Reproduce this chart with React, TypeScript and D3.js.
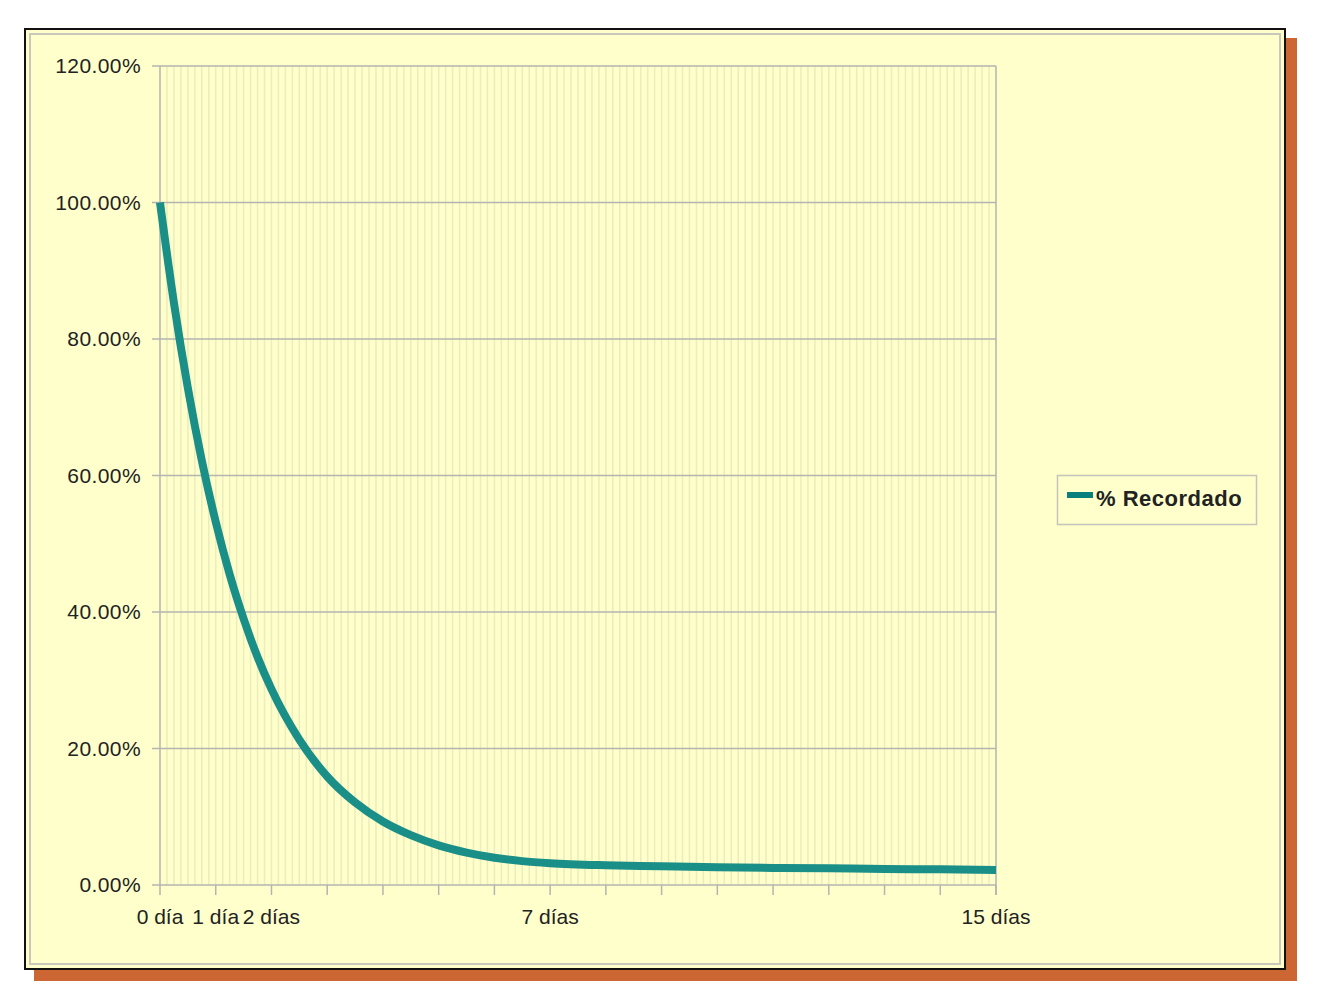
import React from "react";
import * as d3 from "d3";

// days since learning and % remembered
const days = [0, 0.25, 0.5, 0.75, 1, 1.25, 1.5, 1.75, 2, 2.5, 3, 3.5, 4, 4.5, 5, 5.5, 6, 6.5, 7, 8, 9, 10, 11, 12, 13, 14, 15];
const recordado = [100, 85.3, 72.8, 62.2, 53.2, 45.5, 39.0, 33.4, 28.7, 21.3, 15.9, 12.1, 9.3, 7.3, 5.8, 4.75, 4.0, 3.5, 3.2, 2.9, 2.75, 2.6, 2.5, 2.45, 2.35, 2.3, 2.2];

const yTicks = [0, 20, 40, 60, 80, 100, 120];
const xTickLabels: [number, string][] = [
  [0, "0 día"],
  [1, "1 día"],
  [2, "2 días"],
  [7, "7 días"],
  [15, "15 días"],
];
const seriesName = "% Recordado";

const W = 1326;
const H = 1006;
const PLOT = { left: 160, right: 996, top: 66, bottom: 885 };
const FONT = "'Liberation Sans', Arial, sans-serif";
const BG = "#ffffcc";
const LINE = "#1a8f88";

const App = () => {
  const x = d3.scaleLinear().domain([0, 15]).range([PLOT.left, PLOT.right]);
  const y = d3.scaleLinear().domain([0, 120]).range([PLOT.bottom, PLOT.top]);

  // one faint stripe per 3-hour category
  const stripes = d3.range(1, 120).map((i) => i / 8);
  const dayTicks = d3.range(0, 16);

  const line = d3
    .line<number>()
    .x((_, i) => x(days[i]))
    .y((d) => y(d))
    .curve(d3.curveMonotoneX);

  return (
    <svg
      width={W}
      height={H}
      style={{ position: "absolute", top: 0, left: 0, fontFamily: FONT }}
    >
      <rect x={0} y={0} width={W} height={H} fill="#ffffff" />
      {/* frame with orange shadow */}
      <rect x={34} y={38} width={1263} height={943} fill="#cc6633" />
      <rect x={25} y={29} width={1260} height={940} fill={BG} stroke="#111" strokeWidth={2} />
      <rect x={30} y={34} width={1250} height={930} fill="none" stroke="#c8c8bc" strokeWidth={2} />

      {/* stripes */}
      {stripes.map((d) => (
        <line
          key={d}
          x1={x(d)}
          x2={x(d)}
          y1={PLOT.top}
          y2={PLOT.bottom}
          stroke="#ececbc"
          strokeWidth={1.5}
        />
      ))}

      {/* horizontal grid + y labels */}
      {yTicks.map((t) => (
        <g key={t}>
          <line
            x1={PLOT.left - 8}
            x2={PLOT.right}
            y1={y(t)}
            y2={y(t)}
            stroke="#b4b4b0"
            strokeWidth={1.5}
          />
          <text
            x={141}
            y={y(t) + 7}
            textAnchor="end"
            fontSize={21}
            letterSpacing={0.4}
            fill="#222"
          >
            {t.toFixed(2)}%
          </text>
        </g>
      ))}

      {/* plot borders */}
      <line x1={PLOT.left} x2={PLOT.left} y1={PLOT.top} y2={PLOT.bottom} stroke="#b4b4b0" strokeWidth={1.5} />
      <line x1={PLOT.right} x2={PLOT.right} y1={PLOT.top} y2={PLOT.bottom + 10} stroke="#b4b4b0" strokeWidth={1.5} />

      {/* x ticks */}
      {dayTicks.map((d) => (
        <line
          key={d}
          x1={x(d)}
          x2={x(d)}
          y1={PLOT.bottom}
          y2={PLOT.bottom + 10}
          stroke="#b4b4b0"
          strokeWidth={1.5}
        />
      ))}
      {xTickLabels.map(([d, label]) => (
        <text
          key={label}
          x={x(d)}
          y={924}
          textAnchor="middle"
          fontSize={21}
          fill="#222"
        >
          {label}
        </text>
      ))}

      {/* series */}
      <path
        d={line(recordado) ?? ""}
        fill="none"
        stroke={LINE}
        strokeWidth={8}
        strokeLinejoin="round"
      />

      {/* legend */}
      <rect x={1057.5} y={475.5} width={199} height={49} fill={BG} stroke="#c4c4bc" strokeWidth={1.5} />
      <line x1={1067} x2={1093} y1={495} y2={495} stroke="#0a807c" strokeWidth={6} />
      <text x={1096} y={506} fontSize={22} letterSpacing={0.5} fontWeight="bold" fill="#222">
        {seriesName}
      </text>
    </svg>
  );
};

export default App;
